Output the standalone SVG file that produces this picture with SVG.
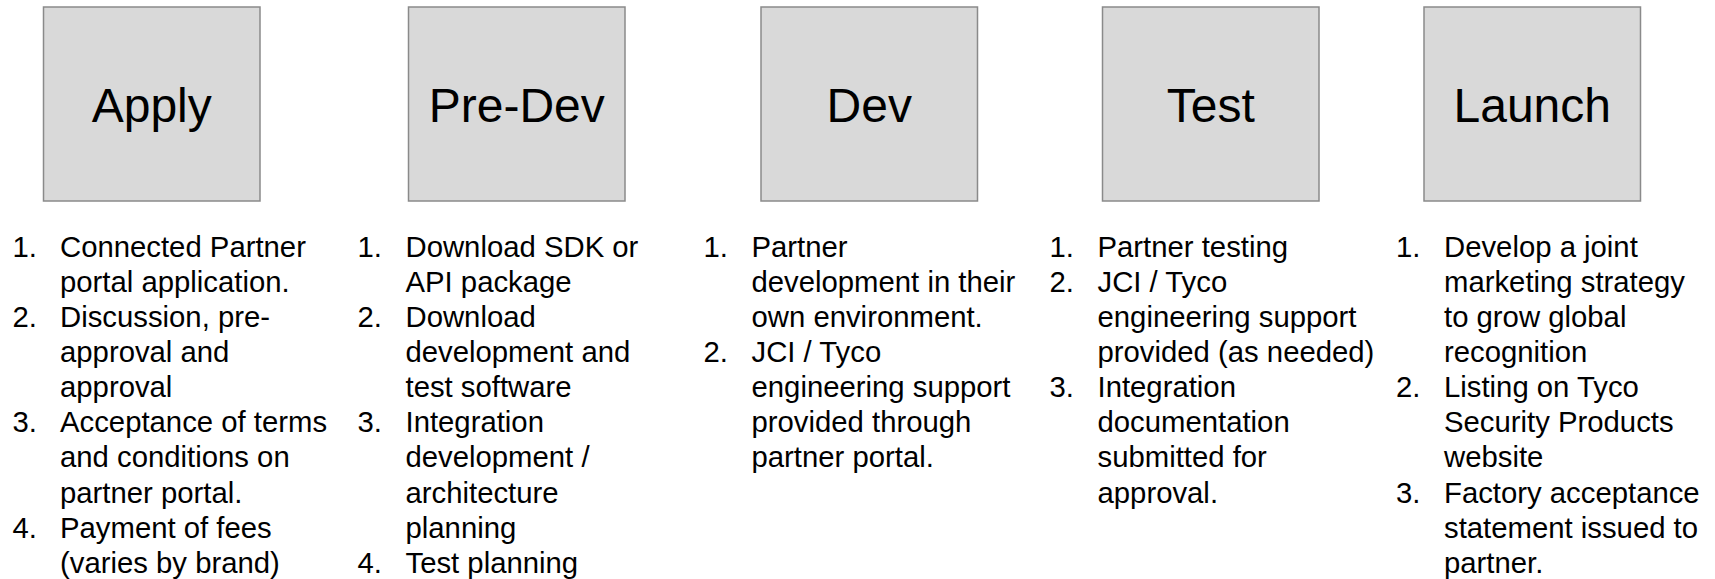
<svg xmlns="http://www.w3.org/2000/svg" width="1715" height="579" viewBox="0 0 1715 579">
<style>
.box{fill:#d9d9d9;stroke:#8a8a8a;stroke-width:1.5}
.lbl{font-family:"Liberation Sans",Arial,sans-serif;font-size:48px;fill:#000;text-anchor:middle}
.lst{font-family:"Liberation Sans",Arial,sans-serif;font-size:29.3px;fill:#000}
</style>
<rect width="1715" height="579" fill="#fff"/>
<g id="connectors"/>
<g id="apply">
<rect class="box" x="43.5" y="7" width="216.5" height="194"/>
<text class="lbl" x="151.75" y="122">Apply</text>
<text class="lst">
<tspan x="12.5" y="256.5">1.</tspan><tspan x="60" y="256.5">Connected Partner</tspan>
<tspan x="60" y="291.65">portal application.</tspan>
<tspan x="12.5" y="326.8">2.</tspan><tspan x="60" y="326.8">Discussion, pre-</tspan>
<tspan x="60" y="361.95">approval and</tspan>
<tspan x="60" y="397.1">approval</tspan>
<tspan x="12.5" y="432.25">3.</tspan><tspan x="60" y="432.25">Acceptance of terms</tspan>
<tspan x="60" y="467.4">and conditions on</tspan>
<tspan x="60" y="502.55">partner portal.</tspan>
<tspan x="12.5" y="537.7">4.</tspan><tspan x="60" y="537.7">Payment of fees</tspan>
<tspan x="60" y="572.85">(varies by brand)</tspan>
</text>
</g>
<g id="predev">
<rect class="box" x="408.5" y="7" width="216.5" height="194"/>
<text class="lbl" x="516.75" y="122">Pre-Dev</text>
<text class="lst">
<tspan x="357.5" y="256.5">1.</tspan><tspan x="405.5" y="256.5">Download SDK or</tspan>
<tspan x="405.5" y="291.65">API package</tspan>
<tspan x="357.5" y="326.8">2.</tspan><tspan x="405.5" y="326.8">Download</tspan>
<tspan x="405.5" y="361.95">development and</tspan>
<tspan x="405.5" y="397.1">test software</tspan>
<tspan x="357.5" y="432.25">3.</tspan><tspan x="405.5" y="432.25">Integration</tspan>
<tspan x="405.5" y="467.4">development /</tspan>
<tspan x="405.5" y="502.55">architecture</tspan>
<tspan x="405.5" y="537.7">planning</tspan>
<tspan x="357.5" y="572.85">4.</tspan><tspan x="405.5" y="572.85">Test planning</tspan>
</text>
</g>
<g id="dev">
<rect class="box" x="761" y="7" width="216.5" height="194"/>
<text class="lbl" x="869.25" y="122">Dev</text>
<text class="lst">
<tspan x="703.5" y="256.5">1.</tspan><tspan x="751.5" y="256.5">Partner</tspan>
<tspan x="751.5" y="291.65">development in their</tspan>
<tspan x="751.5" y="326.8">own environment.</tspan>
<tspan x="703.5" y="361.95">2.</tspan><tspan x="751.5" y="361.95">JCI / Tyco</tspan>
<tspan x="751.5" y="397.1">engineering support</tspan>
<tspan x="751.5" y="432.25">provided through</tspan>
<tspan x="751.5" y="467.4">partner portal.</tspan>
</text>
</g>
<g id="test">
<rect class="box" x="1102.5" y="7" width="216.5" height="194"/>
<text class="lbl" x="1210.75" y="122">Test</text>
<text class="lst">
<tspan x="1049.5" y="256.5">1.</tspan><tspan x="1097.5" y="256.5">Partner testing</tspan>
<tspan x="1049.5" y="291.65">2.</tspan><tspan x="1097.5" y="291.65">JCI / Tyco</tspan>
<tspan x="1097.5" y="326.8">engineering support</tspan>
<tspan x="1097.5" y="361.95">provided (as needed)</tspan>
<tspan x="1049.5" y="397.1">3.</tspan><tspan x="1097.5" y="397.1">Integration</tspan>
<tspan x="1097.5" y="432.25">documentation</tspan>
<tspan x="1097.5" y="467.4">submitted for</tspan>
<tspan x="1097.5" y="502.55">approval.</tspan>
</text>
</g>
<g id="launch">
<rect class="box" x="1424" y="7" width="216.5" height="194"/>
<text class="lbl" x="1532.25" y="122">Launch</text>
<text class="lst">
<tspan x="1396" y="256.5">1.</tspan><tspan x="1444" y="256.5">Develop a joint</tspan>
<tspan x="1444" y="291.65">marketing strategy</tspan>
<tspan x="1444" y="326.8">to grow global</tspan>
<tspan x="1444" y="361.95">recognition</tspan>
<tspan x="1396" y="397.1">2.</tspan><tspan x="1444" y="397.1">Listing on Tyco</tspan>
<tspan x="1444" y="432.25">Security Products</tspan>
<tspan x="1444" y="467.4">website</tspan>
<tspan x="1396" y="502.55">3.</tspan><tspan x="1444" y="502.55">Factory acceptance</tspan>
<tspan x="1444" y="537.7">statement issued to</tspan>
<tspan x="1444" y="572.85">partner.</tspan>
</text>
</g>
</svg>
